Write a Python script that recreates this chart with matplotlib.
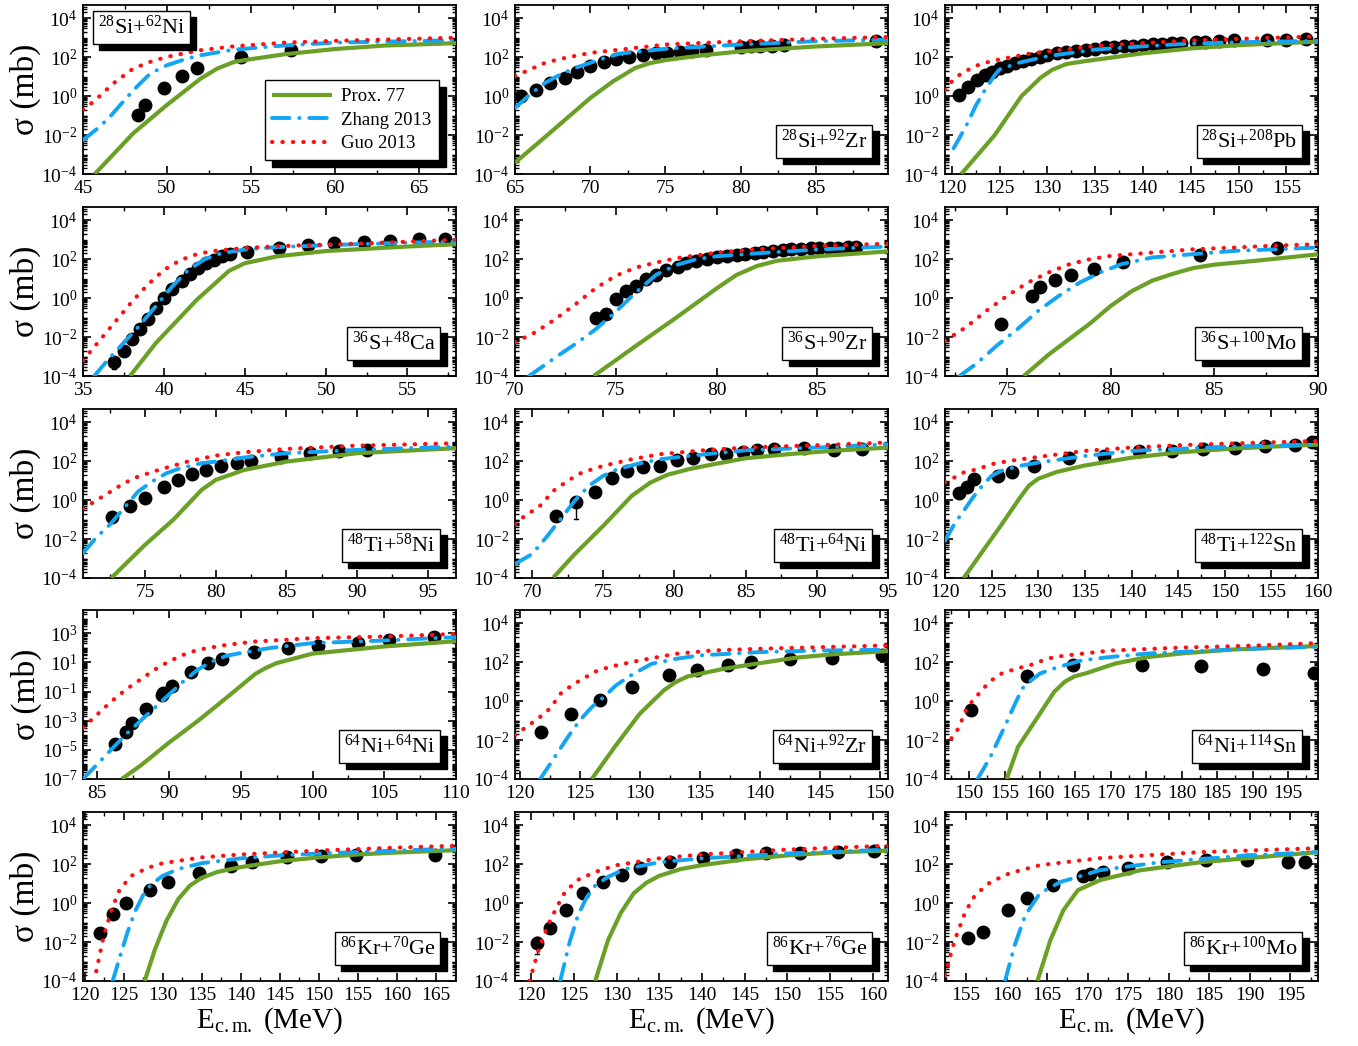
import numpy as np
import matplotlib.pyplot as plt
import matplotlib.transforms as mtransforms
from matplotlib.ticker import (FixedLocator, LogLocator, MultipleLocator,
                               LogFormatterSciNotation, NullFormatter)

plt.rcParams['font.family'] = ['Liberation Serif', 'DejaVu Serif']
plt.rcParams['mathtext.fontset'] = 'custom'
plt.rcParams['mathtext.rm'] = 'Liberation Serif'
plt.rcParams['mathtext.it'] = 'Liberation Serif:italic'
plt.rcParams['mathtext.default'] = 'regular'
plt.rcParams['axes.linewidth'] = 1.3

# courbes : (E_cm en MeV, log10 sigma en mb)
# exp : points experimentaux, err : (E, log10 bas, log10 haut)

# 28Si+62Ni
si_ni62_prox = [(45.7, -4), (48, -1.9), (50, -0.45), (52, 0.9), (53, 1.42), (54, 1.76), (55, 1.9),
                (57, 2.15), (60, 2.42), (63, 2.6), (67.2, 2.72)]
si_ni62_zhang = [(45, -2.26), (46, -1.57), (46.6, -1.06), (48, 0.31), (49, 1.16), (50, 1.59),
                 (51.2, 1.93), (52, 2.1), (54, 2.39), (57, 2.6), (60, 2.75), (67.2, 2.87)]
si_ni62_guo = [(45, -0.7), (45.2, -0.58), (45.8, -0.15), (46.8, 0.65), (48, 1.42), (49, 1.76),
               (50, 2.02), (52, 2.36), (54, 2.56), (57, 2.75), (60, 2.84), (67.2, 3.0)]
si_ni62_exp = [(48.3, -0.97), (48.7, -0.43), (49.8, 0.44), (50.9, 1.03), (51.8, 1.42),
               (54.4, 2.02), (57.4, 2.39)]
si_ni62_err = [(57.4, 2.28, 2.5)]

# 28Si+92Zr
si_zr92_prox = [(65, -3.42), (67, -2.1), (70, -0.1), (71.5, 0.75), (73, 1.45), (74, 1.7), (75, 1.85),
                (77.5, 2.1), (80, 2.3), (85, 2.55), (89.8, 2.72)]
si_zr92_zhang = [(65, -0.6), (66, 0.09), (67, 0.68), (68, 1.11), (69, 1.45), (70, 1.71), (71, 1.97),
                 (72, 2.19), (75, 2.43), (80, 2.65), (85, 2.82), (89.8, 2.9)]
si_zr92_guo = [(65, 1.03), (66, 1.37), (67, 1.71), (68, 1.91), (70, 2.22), (72, 2.39), (75, 2.65),
               (80, 2.82), (85, 2.94), (89.8, 3.04)]
si_zr92_exp = [(65.4, 0.03), (66.4, 0.31), (67.3, 0.68), (68.3, 0.91), (69.1, 1.23), (70.0, 1.57),
               (70.9, 1.74), (71.7, 1.91), (72.6, 2.02), (73.5, 2.09), (74.4, 2.19), (75.1, 2.22),
               (76.0, 2.26), (76.8, 2.3), (77.7, 2.35), (80.0, 2.52), (80.7, 2.55), (81.3, 2.58),
               (82.1, 2.6), (82.9, 2.62), (89.0, 2.82)]
si_zr92_err = []

# 28Si+208Pb
si_pb_prox = [(121.0, -4), (124.5, -2), (127.3, 0), (129.3, 0.95), (130.5, 1.35), (132, 1.65),
              (134, 1.8), (140, 2.2), (145, 2.45), (150, 2.62), (158.3, 2.8)]
si_pb_zhang = [(120.2, -2.68), (121.5, -1.54), (122.5, -0.51), (123.5, 0.34), (124.5, 1.08),
               (125, 1.37), (127, 1.71), (130, 2.05), (135, 2.39), (140, 2.56), (145, 2.7),
               (150, 2.77), (158.3, 2.84)]
si_pb_guo = [(119.3, 0.31), (120, 0.74), (121, 1.17), (122, 1.42), (123, 1.65), (125, 1.89),
             (128, 2.17), (130, 2.29), (135, 2.58), (140, 2.72), (145, 2.86), (150, 2.94),
             (158.3, 3.07)]
si_pb_exp = [(120.8, 0.05), (121.7, 0.48), (122.6, 0.82), (123.5, 1.08), (124.2, 1.25), (125, 1.42),
             (125.8, 1.54), (126.6, 1.68), (127.5, 1.8), (128.3, 1.89), (129.2, 1.99), (130, 2.1),
             (131, 2.19), (132, 2.27), (133, 2.33), (134, 2.39), (135, 2.44), (136, 2.5),
             (137, 2.53), (138, 2.56), (139, 2.6), (140, 2.63), (141, 2.67), (142, 2.69),
             (143, 2.72), (144, 2.74), (145.5, 2.79), (146.5, 2.8), (148, 2.84), (149.5, 2.87),
             (153, 2.87), (155, 2.9), (157, 2.95)]
si_pb_err = []

# 36S+48Ca
s_ca_prox = [(37.9, -4), (39.5, -2.3), (42, -0.1), (44, 1.4), (45, 1.8), (47, 2.15), (50, 2.42),
             (55, 2.65), (58, 2.77)]
s_ca_zhang = [(35.7, -4), (36.5, -3.2), (37.5, -2.3), (38.5, -1.4), (39.5, -0.4), (40.5, 0.6),
              (41.5, 1.45), (42.5, 2.0), (43.5, 2.3), (45, 2.5), (47, 2.62), (50, 2.72),
              (55, 2.85), (58, 2.9)]
s_ca_guo = [(35, -3.2), (36, -2.2), (37, -1.2), (38, -0.2), (39, 0.7), (40, 1.45), (41, 1.95),
            (42, 2.25), (43, 2.42), (45, 2.58), (48, 2.7), (52, 2.8), (58, 3.0)]
s_ca_exp = [(36.9, -3.3), (37.5, -2.7), (38.0, -2.08), (38.5, -1.57), (39.0, -1.06), (39.5, -0.51),
            (40.0, 0.0), (40.5, 0.48), (41.1, 0.89), (41.6, 1.23), (42.1, 1.54), (42.6, 1.8),
            (43.1, 1.97), (43.6, 2.14), (44.05, 2.26), (45.1, 2.36), (47.1, 2.56), (48.9, 2.73),
            (50.5, 2.82), (52.3, 2.9), (53.9, 2.94), (55.7, 3.03), (57.3, 3.03)]
s_ca_err = [(36.9, -3.65, -3.05)]

# 36S+90Zr
s_zr_prox = [(73.9, -4), (76, -2.45), (78, -1.0), (80, 0.5), (81, 1.2), (82, 1.65), (83, 1.92),
             (85, 2.15), (88.5, 2.4)]
s_zr_zhang = [(70.7, -4), (72, -3.05), (73, -2.35), (74, -1.6), (75, -0.7), (76, 0.3), (77, 1.2),
              (78, 1.7), (79, 2.0), (80, 2.15), (82, 2.3), (85, 2.5), (88.5, 2.65)]
s_zr_guo = [(70, -2.27), (71, -1.76), (72, -1.08), (73, -0.31), (74, 0.51), (75, 1.15), (76, 1.57),
            (77, 1.83), (78, 2.05), (80, 2.34), (82, 2.51), (85, 2.68), (88.5, 2.8)]
s_zr_exp = [(74.0, -1.03), (74.5, -0.79), (75.0, -0.05), (75.5, 0.38), (76.0, 0.63), (76.5, 0.97),
            (77.0, 1.2), (77.5, 1.45), (78.1, 1.61), (78.5, 1.83), (79.0, 1.91), (79.5, 2.0),
            (80.0, 2.12), (80.5, 2.17), (81.0, 2.22), (81.4, 2.26), (81.9, 2.31), (82.3, 2.38),
            (82.8, 2.43), (83.3, 2.46), (83.7, 2.51), (84.2, 2.51), (84.7, 2.55), (85.1, 2.56),
            (85.6, 2.6), (86.0, 2.6), (86.5, 2.63), (86.9, 2.65)]
s_zr_err = []

# 36S+100Mo
s_mo_prox = [(75.8, -4), (77, -2.9), (78, -2.1), (79, -1.3), (80, -0.4), (81, 0.35), (82, 0.9),
             (83, 1.25), (84, 1.55), (85, 1.72), (87, 1.92), (90, 2.25)]
s_mo_zhang = [(72.7, -4), (73.5, -3.38), (74.5, -2.44), (75.5, -1.59), (76.5, -0.65), (77.5, 0.12),
              (78.5, 0.8), (79.5, 1.32), (80.5, 1.74), (82, 2.09), (84, 2.26), (86, 2.43),
              (88, 2.51), (90, 2.6)]
s_mo_guo = [(72, -2.19), (73, -1.5), (74, -0.65), (75, 0.12), (76, 0.8), (77, 1.32), (78, 1.74),
            (79, 2.0), (80, 2.17), (82, 2.34), (84, 2.51), (86, 2.6), (88, 2.7), (90, 2.77)]
s_mo_exp = [(74.7, -1.33), (76.2, 0.12), (76.6, 0.55), (77.3, 0.92), (78.1, 1.2), (79.2, 1.49),
            (80.6, 1.86), (84.3, 2.22), (88.0, 2.6)]
s_mo_err = []

# 48Ti+58Ni
ti_ni58_prox = [(72.6, -4), (75, -2.29), (77, -1.0), (79, 0.53), (80, 1.04), (82, 1.55), (85, 1.98),
                (90, 2.41), (97, 2.67)]
ti_ni58_zhang = [(70.6, -2.72), (71.5, -1.95), (72.5, -1.26), (73.5, -0.41), (74.5, 0.44),
                 (75.5, 0.96), (76.5, 1.38), (77.5, 1.64), (79, 1.9), (80, 1.98), (82, 2.19),
                 (85, 2.41), (90, 2.58), (97, 2.75)]
ti_ni58_guo = [(70.6, -0.44), (71.5, -0.03), (72.5, 0.41), (73.5, 0.87), (74.5, 1.21), (76, 1.56),
               (78, 1.98), (80, 2.29), (82, 2.46), (85, 2.63), (90, 2.8), (97, 2.92)]
ti_ni58_exp = [(72.65, -0.89), (73.9, -0.32), (75.0, 0.1), (76.3, 0.65), (77.3, 1.04), (78.3, 1.33),
               (79.3, 1.56), (80.4, 1.73), (81.5, 1.9), (82.5, 2.02), (84.6, 2.24), (86.7, 2.41),
               (88.7, 2.53), (90.7, 2.58)]
ti_ni58_err = [(84.6, 2.17, 2.31), (86.7, 2.34, 2.48), (88.7, 2.46, 2.6), (90.7, 2.51, 2.65)]

# 48Ti+64Ni
ti_ni64_prox = [(71.5, -3.97), (73, -2.77), (75, -1.32), (77, 0.22), (78.3, 0.9), (79.5, 1.3),
                (81, 1.59), (83, 1.88), (85, 2.15), (88, 2.36), (91, 2.53), (95, 2.7)]
ti_ni64_zhang = [(68.8, -3.28), (70, -2.77), (71, -1.91), (72, -0.97), (73, -0.03), (74, 0.74),
                 (75, 1.25), (76, 1.59), (77.5, 1.88), (79, 2.1), (81, 2.27), (85, 2.56),
                 (90, 2.7), (95, 2.87)]
ti_ni64_guo = [(68.8, -1.23), (69.5, -0.8), (70.5, -0.34), (71.5, 0.48), (72.5, 0.99), (73.5, 1.42),
               (75, 1.76), (77, 2.1), (79, 2.36), (82, 2.56), (85, 2.7), (90, 2.82), (95, 2.96)]
ti_ni64_exp = [(71.7, -0.8), (73.1, -0.12), (74.4, 0.44), (75.6, 1.13), (76.7, 1.5), (77.8, 1.68),
               (79.0, 1.76), (80.2, 2.05), (81.3, 2.15), (82.6, 2.36), (83.6, 2.39), (84.8, 2.48),
               (85.8, 2.56), (87.0, 2.65), (89.1, 2.7), (91.2, 2.58), (93.2, 2.62)]
ti_ni64_err = [(73.1, -0.97, 0.05)]

# 48Ti+122Sn
ti_sn_prox = [(122, -4), (124, -2.65), (126, -1.3), (128, 0.1), (129, 0.75), (130, 1.1), (132, 1.45),
              (135, 1.78), (140, 2.18), (145, 2.45), (150, 2.62), (155, 2.75), (160, 2.85)]
ti_sn_zhang = [(120, -2.09), (121, -1.23), (122, -0.55), (123, 0.14), (124, 0.74), (125, 1.25),
               (126, 1.5), (128, 1.76), (130, 1.93), (135, 2.27), (140, 2.53), (150, 2.74),
               (160, 2.87)]
ti_sn_guo = [(120, 0.91), (121, 1.16), (122, 1.42), (123.5, 1.59), (125, 1.85), (127, 2.02),
             (130, 2.22), (135, 2.53), (140, 2.7), (145, 2.82), (150, 2.9), (160, 3.04)]
ti_sn_exp = [(121.5, 0.39), (122.4, 0.68), (123.1, 1.11), (125.7, 1.25), (127.2, 1.47), (129.5, 1.76),
             (133.3, 2.15), (137.1, 2.27), (140.8, 2.5), (144.3, 2.5), (147.7, 2.65), (151.1, 2.67),
             (154.3, 2.79), (157.5, 2.82), (159.4, 3.01)]
ti_sn_err = []

# 64Ni+64Ni
ni_ni_prox = [(86.7, -7), (88, -6.09), (90, -4.5), (92, -3.02), (94, -1.43), (96, 0.2), (96.7, 0.6),
              (97.5, 0.95), (100, 1.6), (105, 2.09), (110, 2.45)]
ni_ni_zhang = [(84, -7), (85, -5.98), (86, -4.95), (87, -3.93), (88, -3.02), (89, -2.11), (90, -1.2),
               (91, -0.3), (92, 0.5), (93, 1.07), (94, 1.45), (95, 1.64), (97, 1.98), (100, 2.32),
               (105, 2.5), (110, 2.73)]
ni_ni_guo = [(84, -3.48), (85, -2.57), (86, -1.66), (87, -0.86), (88, -0.18), (89, 0.5), (90, 1.07),
             (91, 1.52), (92, 1.86), (94, 2.2), (96, 2.43), (100, 2.66), (105, 2.77), (110, 2.95)]
ni_ni_exp = [(86.2, -4.61), (87.0, -3.75), (87.4, -3.14), (88.4, -2.18), (89.5, -1.27),
             (89.6, -1.09), (90.2, -0.64), (91.5, 0.32), (92.7, 0.95), (93.7, 1.23), (95.9, 1.68),
             (98.3, 1.98), (100.4, 2.09), (103.2, 2.32), (105.3, 2.5), (108.5, 2.73)]
ni_ni_err = [(86.2, -4.85, -4.4), (105.3, 2.42, 2.58), (108.5, 2.65, 2.81)]

# 64Ni+92Zr
ni_zr_prox = [(126, -4), (128, -2.28), (130, -0.65), (132, 0.55), (133, 0.98), (134, 1.27),
              (135, 1.4), (137, 1.66), (140, 1.95), (143, 2.23), (146, 2.4), (150.7, 2.57)]
ni_zr_zhang = [(121.7, -4), (123, -2.79), (124, -1.85), (125, -0.99), (126, -0.31), (127, 0.21),
               (128, 0.8), (129, 1.23), (130, 1.58), (131, 1.92), (133, 2.17), (135, 2.35),
               (140, 2.52), (145, 2.6), (150.7, 2.64)]
ni_zr_guo = [(119.6, -1.76), (120.5, -1.34), (121.5, -0.91), (122.5, -0.39), (123.5, 0.46),
             (125, 1.06), (126.5, 1.58), (128, 1.83), (130, 2.09), (133, 2.43), (136, 2.6),
             (140, 2.69), (145, 2.77), (150.7, 2.86)]
ni_zr_exp = [(121.8, -1.59), (124.3, -0.68), (126.7, 0.07), (129.35, 0.75), (132.4, 1.32),
             (134.8, 1.61), (137.4, 1.88), (139.3, 2.0), (142.5, 2.14), (146.0, 2.23), (150.2, 2.35)]
ni_zr_err = [(121.8, -1.75, -1.45)]

# 64Ni+114Sn
ni_sn_prox = [(155.3, -4), (156.9, -2.35), (159.7, -0.8), (162.0, 0.48), (163.5, 1.0), (164.9, 1.28),
              (166.4, 1.42), (170.6, 1.93), (175.3, 2.27), (180.0, 2.45), (187.1, 2.65),
              (199.2, 2.83)]
ni_sn_zhang = [(151.2, -4), (153, -2.86), (155, -1.32), (156.5, -0.12), (157.5, 0.65), (158.5, 1.0),
               (160, 1.42), (162, 1.68), (163.5, 1.85), (166, 2.1), (170, 2.27), (175, 2.44),
               (180, 2.53), (190, 2.7), (199.2, 2.79)]
ni_sn_guo = [(147.5, -1.92), (148.5, -1.4), (149.7, -0.33), (150.8, 0.14), (152.0, 0.65),
             (153.2, 1.08), (154.6, 1.42), (156.0, 1.59), (157.6, 1.76), (159.1, 1.9), (160.7, 2.14),
             (162.1, 2.27), (165, 2.4), (170, 2.6), (180, 2.75), (190, 2.85), (199.2, 2.98)]
ni_sn_exp = [(150.3, -0.46), (158.2, 1.28), (164.7, 1.85), (174.4, 1.88), (182.7, 1.79),
             (191.4, 1.64), (198.7, 1.45)]
ni_sn_err = []

# 86Kr+70Ge
kr_ge70_prox = [(127.7, -4), (129, -2.4), (130.5, -0.9), (132, 0.2), (133.5, 0.9), (135, 1.3),
                (137, 1.6), (140, 1.85), (145, 2.15), (150, 2.35), (155, 2.5), (160, 2.6),
                (167.6, 2.72)]
kr_ge70_zhang = [(123.6, -4), (124.5, -2.8), (125.5, -1.5), (126.5, -0.4), (127.5, 0.4),
                 (128.5, 0.95), (130, 1.4), (132, 1.75), (135, 2.05), (140, 2.3), (145, 2.45),
                 (150, 2.55), (160, 2.7), (167.6, 2.8)]
kr_ge70_guo = [(121.5, -3.5), (122.5, -1.6), (123.5, -0.3), (124.5, 0.7), (126, 1.4), (128, 1.8),
               (130, 2.05), (135, 2.35), (140, 2.5), (145, 2.6), (150, 2.7), (160, 2.85),
               (167.6, 2.95)]
kr_ge70_exp = [(122.0, -1.54), (123.6, -0.56), (125.3, 0.0), (128.4, 0.67), (130.7, 1.08),
               (134.7, 1.54), (138.8, 1.9), (141.4, 2.1), (146.0, 2.36), (150.3, 2.4), (154.8, 2.46),
               (164.9, 2.46)]
kr_ge70_err = [(122.0, -1.75, -1.35)]

# 86Kr+76Ge
kr_ge76_prox = [(127.5, -4), (129, -1.9), (130.5, -0.5), (132, 0.5), (133.5, 1.05), (135, 1.4),
                (137.5, 1.75), (140, 1.95), (145, 2.25), (150, 2.45), (155, 2.6), (161.8, 2.7)]
kr_ge76_zhang = [(123.4, -4), (124.5, -2.0), (125.5, -0.6), (126.5, 0.3), (127.5, 0.9), (129, 1.35),
                 (131, 1.75), (135, 2.1), (140, 2.3), (150, 2.55), (161.8, 2.75)]
kr_ge76_guo = [(119.8, -4), (121, -2.2), (122, -1.1), (123, -0.2), (124, 0.6), (125.5, 1.2),
               (127.5, 1.6), (130, 1.95), (135, 2.3), (140, 2.5), (150, 2.75), (161.8, 2.95)]
kr_ge76_exp = [(120.7, -2.05), (122.2, -1.28), (124.1, -0.36), (126.1, 0.51), (128.4, 1.08),
               (130.6, 1.44), (132.8, 1.79), (136.3, 2.1), (140.1, 2.31), (144.0, 2.46),
               (147.5, 2.56), (151.5, 2.6), (155.9, 2.64), (160.2, 2.67)]
kr_ge76_err = [(120.7, -2.6, -1.75)]

# 86Kr+100Mo
kr_mo_prox = [(163.8, -4), (165.4, -1.9), (167, -0.36), (168.8, 0.67), (171.5, 1.18), (176.5, 1.69),
              (183.9, 2.1), (198.4, 2.62)]
kr_mo_zhang = [(159.8, -4), (161.0, -2.15), (162.3, -0.62), (164.1, 0.51), (166.6, 1.08),
               (171.5, 1.69), (178.9, 2.1), (190, 2.46), (198.4, 2.62)]
kr_mo_guo = [(152.4, -3.7), (153.6, -1.9), (154.9, -0.46), (156.1, 0.41), (158, 1.08), (160.4, 1.54),
             (164.1, 1.95), (171.5, 2.31), (183.9, 2.62), (198.4, 2.82)]
kr_mo_exp = [(155.2, -1.8), (157.1, -1.49), (160.2, -0.36), (162.5, 0.26), (165.7, 0.92),
             (169.4, 1.38), (170.3, 1.49), (171.9, 1.6), (175.0, 1.79), (179.8, 2.1), (184.6, 2.21),
             (189.6, 2.21), (194.7, 2.1), (196.8, 2.1)]
kr_mo_err = []

panels = [
    (r'$^{28}$Si+$^{62}$Ni', (45, 67.2), si_ni62_prox, si_ni62_zhang, si_ni62_guo, si_ni62_exp, si_ni62_err),
    (r'$^{28}$Si+$^{92}$Zr', (65, 89.8), si_zr92_prox, si_zr92_zhang, si_zr92_guo, si_zr92_exp, si_zr92_err),
    (r'$^{28}$Si+$^{208}$Pb', (119.3, 158.3), si_pb_prox, si_pb_zhang, si_pb_guo, si_pb_exp, si_pb_err),
    (r'$^{36}$S+$^{48}$Ca', (35, 58), s_ca_prox, s_ca_zhang, s_ca_guo, s_ca_exp, s_ca_err),
    (r'$^{36}$S+$^{90}$Zr', (70, 88.5), s_zr_prox, s_zr_zhang, s_zr_guo, s_zr_exp, s_zr_err),
    (r'$^{36}$S+$^{100}$Mo', (72, 90), s_mo_prox, s_mo_zhang, s_mo_guo, s_mo_exp, s_mo_err),
    (r'$^{48}$Ti+$^{58}$Ni', (70.6, 97), ti_ni58_prox, ti_ni58_zhang, ti_ni58_guo, ti_ni58_exp, ti_ni58_err),
    (r'$^{48}$Ti+$^{64}$Ni', (68.8, 95), ti_ni64_prox, ti_ni64_zhang, ti_ni64_guo, ti_ni64_exp, ti_ni64_err),
    (r'$^{48}$Ti+$^{122}$Sn', (120, 160), ti_sn_prox, ti_sn_zhang, ti_sn_guo, ti_sn_exp, ti_sn_err),
    (r'$^{64}$Ni+$^{64}$Ni', (84, 110), ni_ni_prox, ni_ni_zhang, ni_ni_guo, ni_ni_exp, ni_ni_err),
    (r'$^{64}$Ni+$^{92}$Zr', (119.6, 150.7), ni_zr_prox, ni_zr_zhang, ni_zr_guo, ni_zr_exp, ni_zr_err),
    (r'$^{64}$Ni+$^{114}$Sn', (146.6, 199.2), ni_sn_prox, ni_sn_zhang, ni_sn_guo, ni_sn_exp, ni_sn_err),
    (r'$^{86}$Kr+$^{70}$Ge', (119.8, 167.6), kr_ge70_prox, kr_ge70_zhang, kr_ge70_guo, kr_ge70_exp, kr_ge70_err),
    (r'$^{86}$Kr+$^{76}$Ge', (118.1, 161.8), kr_ge76_prox, kr_ge76_zhang, kr_ge76_guo, kr_ge76_exp, kr_ge76_err),
    (r'$^{86}$Kr+$^{100}$Mo', (152.4, 198.4), kr_mo_prox, kr_mo_zhang, kr_mo_guo, kr_mo_exp, kr_mo_err),
]

vert = '#6ba026'
bleu = '#12a5f4'
rouge = '#ff1010'

fig = plt.figure(figsize=(13.58, 10.46), dpi=100)
col_x = [83, 515, 945]
row_top = [5, 207, 409, 610, 812]
W, H = 373, 169


def xy(pts):
    e, lg = np.array(pts, dtype=float).T
    return e, 10.0 ** lg


def etiquette(ax, s, x, y, ha, va):
    decal = mtransforms.ScaledTranslation(4.5 / 72, -4.5 / 72, fig.dpi_scale_trans)
    ax.text(x, y, s, transform=ax.transAxes + decal, ha=ha, va=va, fontsize=16, color='k',
            bbox=dict(boxstyle='square,pad=0.22', fc='k', ec='k', lw=1.0), zorder=6)
    ax.text(x, y, s, transform=ax.transAxes, ha=ha, va=va, fontsize=16,
            bbox=dict(boxstyle='square,pad=0.22', fc='white', ec='k', lw=1.0), zorder=7)


for i, (nom, xlim, prox, zhang, guo, exp, err) in enumerate(panels):
    r, c = divmod(i, 3)
    ax = fig.add_axes([col_x[c] / 1358, (1046 - row_top[r] - H) / 1046, W / 1358, H / 1046])
    ax.set_yscale('log')

    e, s = xy(exp)
    ax.plot(e, s, 'o', color='k', ms=9, zorder=2)
    dx = 0.006 * (xlim[1] - xlim[0])
    for (ee, lo, hi) in err:
        ax.plot([ee, ee], [10.0 ** lo, 10.0 ** hi], color='k', lw=1, zorder=2)
        ax.plot([ee - dx, ee + dx], [10.0 ** lo] * 2, color='k', lw=1, zorder=2)
        ax.plot([ee - dx, ee + dx], [10.0 ** hi] * 2, color='k', lw=1, zorder=2)

    l1, = ax.plot(*xy(prox), color=vert, lw=3.0, solid_capstyle='butt', zorder=3)
    l2, = ax.plot(*xy(zhang), color=bleu, lw=2.8, linestyle=(0, (4.5, 2.5, 0.1, 2.5)),
                  dash_capstyle='round', zorder=3)
    l3, = ax.plot(*xy(guo), color=rouge, lw=3.0, linestyle=(0, (0.1, 2.4)),
                  dash_capstyle='round', zorder=3)

    ax.set_xlim(*xlim)
    if i == 9:
        ax.set_ylim(1e-7, 3.9e4)
        ax.yaxis.set_major_locator(FixedLocator(10.0 ** np.arange(-7, 4, 2)))
    else:
        ax.set_ylim(1e-4, 4.8e4)
        ax.yaxis.set_major_locator(FixedLocator(10.0 ** np.arange(-4, 5, 2)))
    ax.yaxis.set_minor_locator(LogLocator(base=10, subs=np.arange(1, 10), numticks=60))
    ax.yaxis.set_major_formatter(LogFormatterSciNotation())
    ax.yaxis.set_minor_formatter(NullFormatter())
    ax.xaxis.set_major_locator(MultipleLocator(5))
    ax.xaxis.set_minor_locator(MultipleLocator(2.5))
    ax.tick_params(which='both', direction='in', top=True, right=True, labelsize=14, pad=4)
    ax.tick_params(which='major', length=6, width=1.2)
    ax.tick_params(which='minor', length=3, width=1.0)

    if c == 0:
        ax.set_ylabel('σ (mb)', fontsize=24, labelpad=0)
    if r == 4:
        ax.set_xlabel(r'E$_{\mathrm{c.m.}}$ (MeV)', fontsize=21, labelpad=1)

    if i == 0:
        etiquette(ax, nom, 0.04, 0.935, 'left', 'top')
        ax.legend([l1, l2, l3], ['Prox. 77', 'Zhang 2013', 'Guo 2013'], loc='lower right',
                  bbox_to_anchor=(0.955, 0.083), borderaxespad=0, fontsize=13.5,
                  fancybox=False, edgecolor='k', framealpha=1, handlelength=3.2,
                  borderpad=0.4, labelspacing=0.35, handletextpad=0.5,
                  shadow={'ox': 5, 'oy': -5, 'facecolor': 'k', 'edgecolor': 'k', 'alpha': 1})
    else:
        etiquette(ax, nom, 0.945, 0.125, 'right', 'bottom')

plt.savefig('out.png', dpi=100)
